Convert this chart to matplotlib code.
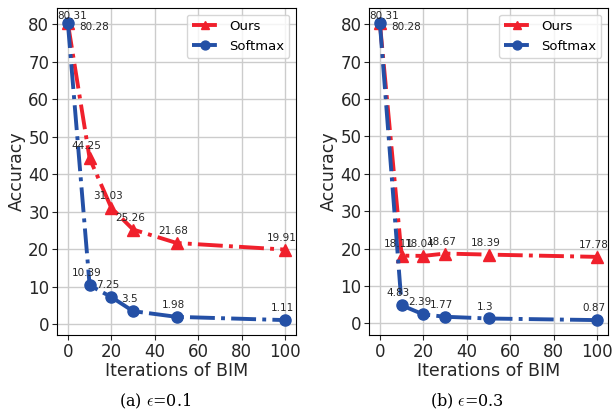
import matplotlib.pyplot as plt

plt.rcParams['mathtext.fontset'] = 'cm'

iters = [0, 10, 20, 30, 50, 100]

ours_a = [80.28, 44.25, 31.03, 25.26, 21.68, 19.91]
soft_a = [80.31, 10.39, 7.25, 3.5, 1.98, 1.11]

ours_b = [80.28, 18.11, 18.04, 18.67, 18.39, 17.78]
soft_b = [80.31, 4.83, 2.39, 1.77, 1.3, 0.87]

captions = [r'(a) $\epsilon$=0.1', r'(b) $\epsilon$=0.3']

red = '#f0202c'
blue = '#2450a6'
txt = '#262626'

fig = plt.figure(figsize=(6.13, 4.12), dpi=100)
lefts = [0.093, 0.602]
cap_x = [0.253, 0.762]

for i, (ours, soft) in enumerate([(ours_a, soft_a), (ours_b, soft_b)]):
    ax = fig.add_axes([lefts[i], 0.187, 0.39, 0.793])
    ax.plot(iters, ours, '-.', color=red, marker='^', lw=2.8, ms=8, label='Ours')
    ax.plot(iters, soft, '-.', color=blue, marker='o', lw=2.8, ms=8, label='Softmax')

    # value labels
    for j, (x, y) in enumerate(zip(iters, ours)):
        if j == 0:
            ax.text(x + 12, y - 1, str(y), ha='center', va='center', fontsize=7.5, color=txt)
        else:
            ax.text(x - 1.5, y + 3.2, str(y), ha='center', va='center', fontsize=7.5, color=txt)
    for j, (x, y) in enumerate(zip(iters, soft)):
        if j == 0:
            ax.text(x + 2, y + 2, str(y), ha='center', va='center', fontsize=7.5, color=txt)
        else:
            ax.text(x - 1.5, y + 3.2, str(y), ha='center', va='center', fontsize=7.5, color=txt)

    ax.set_xticks([0, 20, 40, 60, 80, 100])
    ax.set_yticks([0, 10, 20, 30, 40, 50, 60, 70, 80])
    ax.tick_params(labelsize=12, colors=txt, pad=2)
    ax.grid(True, color='#cccccc', lw=1)
    ax.set_axisbelow(True)
    ax.set_xlabel('Iterations of BIM', fontsize=12.5, color=txt, labelpad=1)
    ax.set_ylabel('Accuracy', fontsize=12.5, color=txt, labelpad=2)
    ax.legend(loc='upper right', fontsize=9.5, markerscale=0.8)
    fig.text(cap_x[i], 0.026, captions[i], ha='center', va='center', fontsize=11.5,
             family='DejaVu Serif')

fig.savefig('out.png')
